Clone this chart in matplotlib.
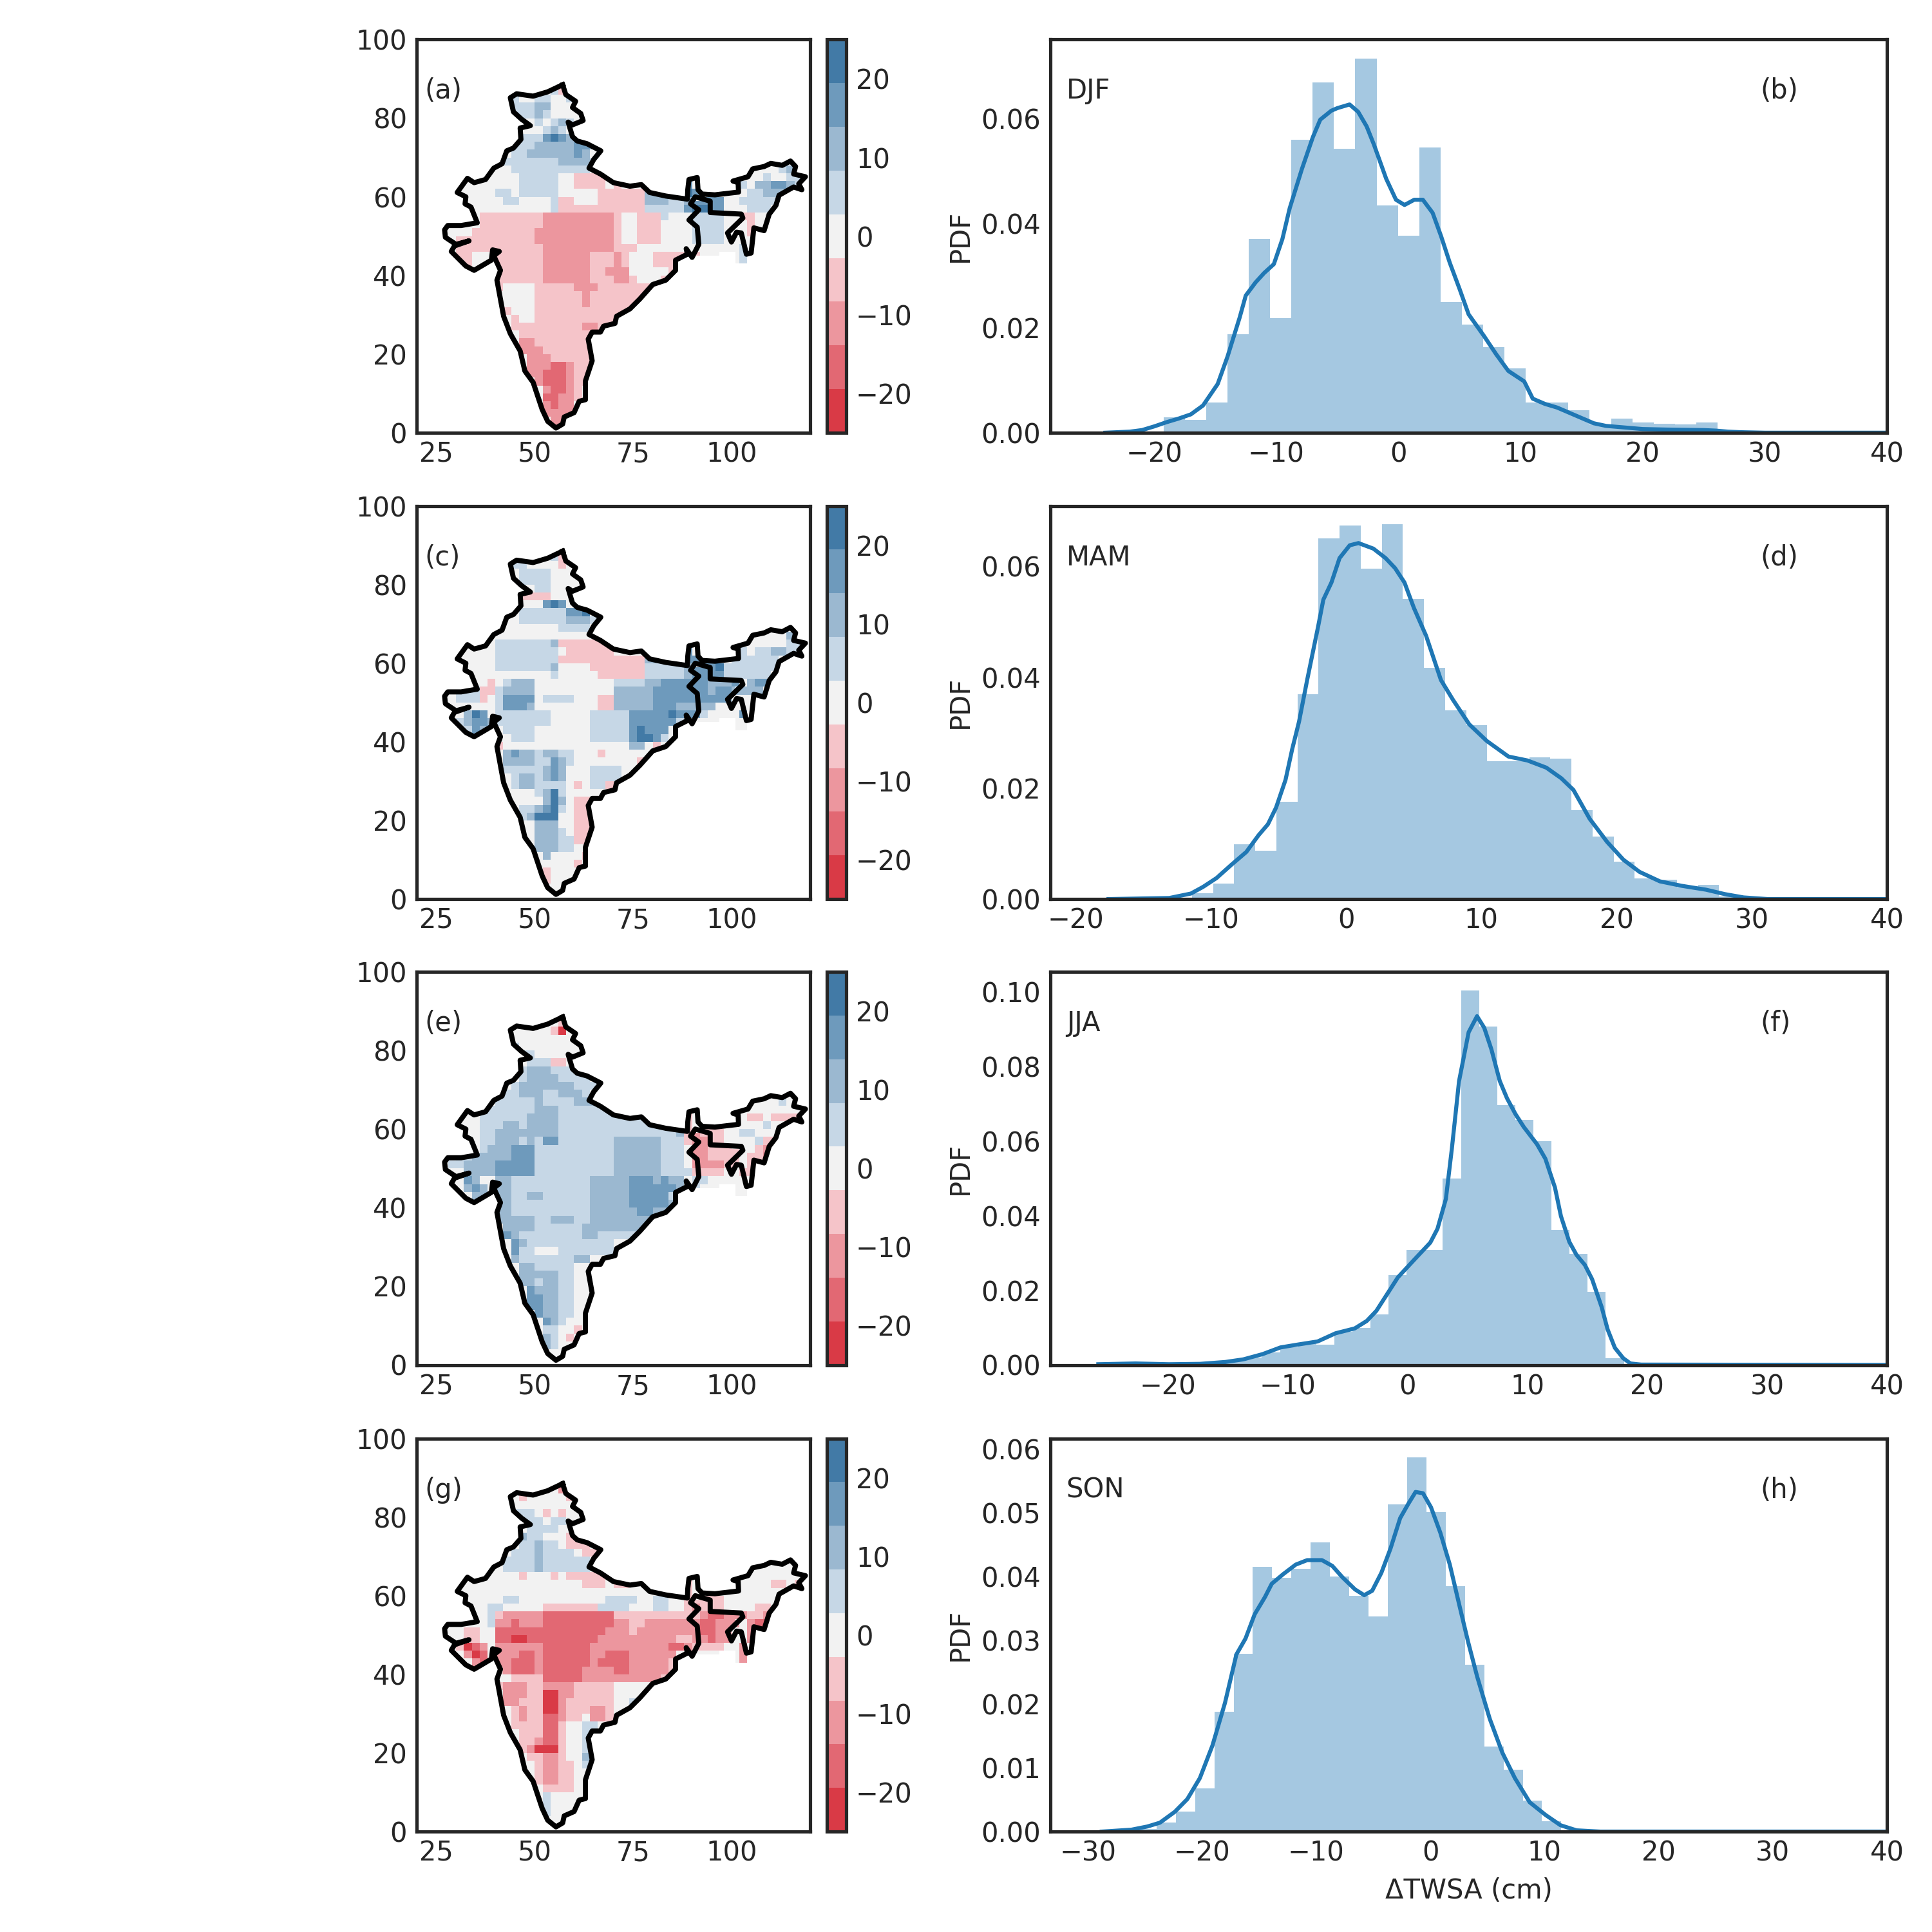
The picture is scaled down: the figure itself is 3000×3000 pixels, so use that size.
import numpy as np
import matplotlib
matplotlib.use('Agg')
import matplotlib.pyplot as plt
from matplotlib.colors import ListedColormap, BoundaryNorm
from matplotlib.cm import ScalarMappable
from matplotlib.path import Path

# outline of the country, lon-like x / lat-like y in plot units
outline_x = [57.1, 57.9, 60.4, 59.6, 61.7, 62.3, 59.6, 58.5, 59.6, 60.8, 63.3, 66.8, 65.0, 63.8, 66.7, 70.0, 74.2, 77.1, 79.2, 83.3, 88.8, 88.9, 89.2, 91.3, 91.5, 92.5, 95.8, 101.8, 101.7, 100.4, 104.2, 105.4, 108.3, 110.0, 112.9, 115.0, 116.3, 115.8, 118.8, 117.1, 117.9, 115.8, 112.1, 111.3, 109.6, 108.3, 105.7, 105.0, 103.8, 102.5, 101.3, 100.0, 99.0, 102.9, 102.5, 94.6, 94.6, 90.8, 89.6, 91.7, 89.2, 91.3, 91.7, 90.0, 88.5, 88.8, 85.8, 85.8, 83.3, 80.0, 76.7, 74.2, 70.8, 70.4, 67.5, 66.7, 64.6, 63.6, 64.6, 62.9, 62.9, 61.3, 60.0, 57.5, 57.1, 55.4, 53.3, 51.9, 49.6, 47.5, 46.3, 43.8, 42.1, 40.4, 41.3, 39.6, 41.0, 39.3, 39.0, 34.6, 32.5, 28.8, 29.6, 33.3, 30.0, 27.3, 27.1, 27.9, 31.3, 35.4, 33.8, 32.3, 32.5, 30.3, 32.9, 34.6, 37.5, 39.6, 41.7, 42.9, 44.6, 46.5, 46.3, 48.9, 46.7, 44.6, 43.8, 45.4, 49.6, 53.3, 57.1]
outline_y = [88.5, 86.0, 84.3, 82.7, 81.2, 79.4, 78.3, 79.0, 75.3, 74.2, 73.5, 71.7, 69.5, 67.3, 65.8, 63.6, 62.7, 63.1, 61.1, 60.2, 59.4, 61.8, 64.4, 64.9, 61.8, 60.7, 60.5, 61.2, 63.6, 64.0, 65.1, 67.1, 67.7, 68.5, 68.0, 69.1, 67.7, 65.8, 65.1, 63.3, 61.8, 62.5, 60.4, 57.8, 55.6, 51.4, 52.1, 45.7, 45.4, 50.8, 51.0, 48.5, 50.8, 54.6, 55.6, 56.0, 58.9, 60.0, 58.2, 56.7, 54.1, 52.3, 47.9, 44.6, 46.8, 45.4, 43.9, 41.3, 38.8, 37.7, 34.0, 31.5, 29.6, 27.8, 27.1, 25.6, 25.6, 23.8, 18.3, 13.2, 8.4, 8.0, 5.1, 4.0, 2.2, 1.2, 2.9, 5.9, 12.8, 15.7, 20.8, 25.2, 29.6, 38.8, 41.3, 45.0, 46.1, 46.5, 43.9, 41.3, 42.4, 46.1, 47.5, 48.8, 47.9, 49.7, 51.6, 52.7, 52.7, 53.4, 57.4, 58.2, 60.0, 61.1, 64.7, 63.6, 64.4, 67.3, 68.4, 71.7, 72.4, 74.6, 77.5, 78.1, 79.7, 81.6, 85.2, 86.2, 85.6, 86.7, 88.5]
# data also exists in the delta that the outline goes around
delta_x = [90.5, 94.6, 94.6, 102.9, 99.0, 100.0, 102.5, 103.8, 104.2, 100.8, 100.8, 95.8, 90.0, 91.7, 91.3, 89.2, 91.7, 89.6]
delta_y = [59.5, 58.9, 56.0, 55.2, 50.8, 48.5, 50.8, 45.4, 42.8, 42.8, 45.7, 45.4, 44.6, 47.9, 52.3, 54.1, 56.7, 58.2]

# map cells: top row is y=88, first column x=26, each char 2 units wide
# A B C D = red classes, o = neutral, 1 2 3 4 = blue classes
class_values = {'A': -22.0, 'B': -16.7, 'C': -11.0, 'D': -5.5, 'o': 0.0, '.': 0.0, '1': 5.5, '2': 11.0, '3': 16.7, '4': 22.0}

djf_rows = [
    "...............o",
    "............oo1D",
    ".........1oo11oo1",
    ".........11122oooo",
    ".........11121oooo",
    "..........oo1o121oo",
    "..........ooo121o",
    "..........11134321",
    ".........11122222332",
    ".........11222222 32",
    "........1111111 2222 1",
    "........o1111111111 .......................o12234",
    ".....ooooo 11111 oo DDDD D ................. oo 1 oo 11",
    "..oooooooo 11111 oo DDDD o D ........ 3 ..... 11 o 22 33 2 1",
    "..ooooo 11 o 11111 ooooo DDDDDD 22 222 4 3 ..... o 11 222 1",
    "...ooooo 11 oooo 1 DD ooo DDDDDD 222 11 2 3333 oo 11111",
    "....oooooooooo 1 DDDDDDDDDDD 11111 3 44 33 ooo 111",
    "....o DDDDDDDD CCCCCCCCC D oo DDD 1 ooo 1111 oo DD oo",
    ".oooo DDDDDDDD CCCCCCCCC D oo DDD o ooo 1111 oo o D oo",
    ".ooo DDDDDDDD CCCCCCCCCC D oo DDD oooo 1111 oo o D o",
    "..DDDDDDDDDD CCCCCCCCCC D oo DDD oooo 1111 ooo o",
    "..DDDDDDDDDDD CCCCCCCCC DDD ooooooo oooo oo 1",
    "..DDooo DDDDDD CCCCCC DDDC D ooo DDDD DD ..... 1",
    "...Doo. DDDDDD CCCCCC DDD C D ooo DDD ........ 1",
    ".......DDDDDD CCCCCC DD C CC ooooo D",
    ".......DDDDDD CCCCCC DDD CC D ooo DD",
    ".......D oooo DDDDD CCC DDDDDDDD",
    "........oooo DDDDDD C DDDDDDDD",
    "........oooo DDDDDD C DDDDDD",
    "........D ooo DDDDDDDDDDDD",
    ".........D oo DDDDDDDDDD",
    ".........DDDDDDDDD CC DDD",
    "..........DDDDDDDDD",
    "..........CC DDDDDDD",
    "..........CCC DDDDDD",
    "...........CCC DDDDD",
    "...........CC C BB C DD",
    "...........CC BBB C DD",
    "............C BBB C D D",
    ".............C BB C D",
    ".............BB CC D",
    ".............C B CC",
    ".............CCCC",
    "..............CC",
    "..............C",
]

mam_rows = [
    "...............o",
    "............oo1D",
    ".........11ooooDo",
    ".........o1111oooo",
    ".........o1111oooo",
    ".........Doo11oooo",
    "..........DDDDooo",
    "..........ooo343o",
    ".........o111111334",
    ".........o111111 222 1",
    "........ooooooo 1 111",
    ".......ooooooooooooo ...................... oo 23",
    ".....oo 1111111 2 DDDDDD .................. ooooo 111",
    "..ooooo 11111111 o DDDDDD oo ....... 3 ..... 11 o 11 22 11",
    "..ooooo 11111111 DDDDDDDDDDD 222 11 333 ... 111111",
    "...oooo 11111 11 2 oooo DDDDDDD 11111 2 33 3 4 1 111111",
    "....oo oooooooo 1 ooooo DDDDDD 11111 2 3333 111111",
    "....oo D o 1 222 oooooooooo 1111 2 2 333333 222 3 . 2 33",
    ".o111 DD 1 2222 oooooooooo 22222 3333333 2 33 2 2 2 2",
    ".o111 D o 1 3333 o 1111 ooo DD 22222 3333333 333",
    ".....oo 1 333 2 oooooooo DD 22222 333 22222 oo",
    "...243 . 1 111111 ooooo 1111 1 3333 3 4 3 3 3 1 .... 3",
    "..1233 2 1111111 ooooo 11111 33333 3 1 ooo ..... 2",
    "...132 . o 1111 ooooooo 11111 3 4 3 3 3",
    ".......oo111 ooooooo 11111 3443 1",
    ".......Do oooooooooo ooooo 22 oDo",
    ".......o 2 3 22 1 22 11 ooo D oooooo",
    "........2222 1 1 3 2 1 ooooooo o DD",
    "........11111 2 3 2 ooo 111 1 o",
    ".........1 22 1 2 3 2 ooo 1111",
    ".........1221111 o D o 11 D",
    ".........ooo 1 2 4 1 oooo",
    "..........ooo 2 4 2 o DD",
    "..........11 2 3 4 1 o DD",
    "..........1 2 444 oo DD",
    "...........o222ooDD",
    "...........o2221oDD",
    "...........o22211DD",
    "............22211o",
    ".............2ooooD",
    ".............ooooD",
    ".............Dooo",
    ".............Dooo",
    "..............oo",
    "..............o",
]

jja_rows = [
    "...............o",
    "............oooD",
    ".........oooooDAo",
    ".........oooooooo",
    ".........1ooooooo",
    "..........11ooooo",
    "..........o111DDo",
    "..........1222111o",
    "..........122221111",
    ".........1 2222222 111",
    "........11222112221",
    ".......11111 2 1111 22 2 ..................... oo1",
    ".....o 111111 222 1111111 ................ ooooooooo",
    "..ooo 111111 2222 11111111111 ..... D ..... oo DD o DDDD",
    "..ooo 111 22 1 2222 1111111111111 ... D ..... . ooo 1 o",
    "...oo 11 22222222 11111111111111 1 2 D C DDD oo 11 ooo",
    "....o 11 222 1 2 1 33 1111111 222222 111 D CC DD oo oo 1 DD",
    "....o 1 222 333 1111111111 222222 111 o C CD DD D oo D CC",
    ".o11 22222 333 1111111111 222222 111 o CC DDDD o DD C",
    ".11 2222 33333 1111111111 222222 111 o CCCC DD . DD",
    "...2222 33333 1111111111 222222 1111 DDDD oo DD",
    "...32o. 22 1111111111 22222 333 2 3 22 . 1 1 ooo . oo",
    "...232. 22 1111111111 22222 3333 33 2 . 1 oo ... oo",
    "....22. 22 11 22 111111 22222 33333 1 ........ o",
    ".......22 1111111111 22222 33333 2",
    ".......22 1111111111 22222 2 33 222",
    ".......22222 11 222 11 222222222",
    "........2222 111111 22222222",
    "........3 2 11111111 22 11111",
    ".........3 2 11111111111",
    ".........3 11 ooo 1111111",
    ".........2 1 1 11111 2 2",
    "..........2211111 o",
    "..........222 22 11 oo",
    "..........22 1 2 2 11 oo",
    "...........3 2 2 2 1 1 oo",
    "...........332211oo",
    "...........332211oo",
    "............32211o",
    ".............321oo",
    ".............11ooD",
    ".............21oD",
    ".............21oo",
    "..............oo",
    "..............o",
]

son_rows = [
    "...............o",
    "............oooC",
    ".........oDoooooDo",
    ".........ooooooooo",
    ".........111oDoDo",
    ".........1111o11oo",
    "..........o1111oo",
    "..........211oooDo",
    "..........1121 1oDDD",
    ".........1112 1111oDD",
    "........11112111111",
    ".......o1111 2 111111 ",
    ".....ooooo D ooo D o DDDDD ...................... ooo D",
    "..oooooooooooooooo DDD o DD ....... D ..... ooooo DD o D",
    "..ooooooooooooooooooooooo ...... D ..... ooooooooo",
    "...ooooo 11 ooooooooooo 1111 oo 11 oo D DDDD oooooo",
    "....oo 11 ooooo DD DDDDD 1111 ooo 11 oo D C DDD oooo DD",
    "....oo 1 D CCCCC BBBBBBBBB DDDDD DDDDD D C BB CCC DD C B",
    "....oo1 CC B CCC BBBBBBBBB CC DD CCCCC C C BB CCC . C BB",
    ".o o DD oo BBBBBB BBBBBBBB CCC D CCCCCCC C BB CC .. C B",
    "...DDoo BB AA BB BBBBBBB CCCC C CCCCC DD CCBCC .. C D",
    "..D A B C . CCCCCC BBBBBB CCCCC CCCCC BB C DDDD oo C",
    "...CAB. CCC BB C BBBBBB CC BBB CCCCCC oooooooo C",
    "....CB. CC BBB C BBBBBB C B B BB CCCC C D ........ C",
    ".......D C BBB C BBBBB CC C CBB CCCC C D",
    ".......oo DDD D B BB BB CC CC CC CC CC D",
    ".......D C CC D D C CC C DDD DD o ooo o",
    "........CCC DD AA CC DDDDD oooo",
    "........CC DDD A A C D DDDD D oo 1",
    ".........DC DD AA C DDD CC D o",
    ".........DC DD BB C DD o CC D",
    ".........DDD D BB D oo 11 o",
    "..........DD D BB D oo 11",
    "..........DD C BB D oo 1",
    "..........DC AAA D oo 11",
    "...........DDCCDoo2",
    "...........oDCCDDo1",
    "...........oDCCDDoo",
    "............DCCDDo",
    ".............DDDDo",
    ".............1oooo",
    ".............1ooo",
    ".............1ooo",
    "..............oo",
    "..............o",
]

map_panels = [djf_rows, mam_rows, jja_rows, son_rows]
map_labels = ['(a)', '(c)', '(e)', '(g)']

level_edges = np.linspace(-25, 25, 10)
level_colors = ['#d93a46', '#e26873', '#ec969e', '#f5c4c9', '#f2f2f2', '#c6d7e6', '#9bb8d0', '#6e9abc', '#427aa6']
cbar_ticks = [-20, -10, 0, 10, 20]

# histogram + kde
seasons = ['DJF', 'MAM', 'JJA', 'SON']
hist_labels = ['(b)', '(d)', '(f)', '(h)']

djf_bin_start = -19.24
djf_bin_width = 1.745
djf_heights = [.003, .0024, .0058, .0188, .037, .0219, .056, .0669, .0542, .0715, .0434, .0376, .0545, .025, .0206, .0164, .0123, .0058, .0058, .0043, .0016, .0027, .002, .0017, .0016, .0019]
djf_kde_x = [-24, -22, -21, -20, -19, -18, -17, -16, -14.8, -14, -13, -12.5, -11.7, -11, -10.2, -9.5, -8.9, -7.9, -7, -6.4, -5.5, -5, -4, -3.3, -2.6, -2, -1, -0.2, .5, 1.3, 2, 2.8, 3.5, 4.2, 5, 5.75, 7, 8, 9, 10.3, 11, 12, 13, 14, 15, 16, 17, 18, 19, 20, 22, 25, 26, 27, 28, 30, 40]
djf_kde_y = [0, .0002, .0005, .0012, .002, .0027, .0035, .0052, .0093, .0145, .022, .0262, .0287, .0305, .0322, .037, .0429, .0504, .0565, .0598, .0615, .062, .0627, .0613, .0585, .055, .0485, .0445, .0435, .0445, .0445, .042, .0375, .0325, .0275, .0226, .0185, .015, .0118, .0098, .0065, .0055, .0048, .0038, .0028, .0018, .0013, .0011, .0009, .0007, .0006, .0005, .0004, .0002, .0001, 0, 0]

mam_bin_start = -11.42
mam_bin_width = 1.56
mam_heights = [.001, .0028, .0099, .0087, .0176, .037, .0651, .0674, .0596, .0676, .0541, .0417, .034, .0314, .0249, .0249, .0256, .0253, .016, .0113, .0068, .0037, .0035, .0021, .0026, .0005]
mam_kde_x = [-17.6, -13.1, -11.5, -10.6, -9.6, -8.5, -7.4, -6.5, -5.8, -5.2, -4.5, -4, -3.5, -2.9, -2.1, -1.7, -1.1, -.5, .25, .9, 2, 2.9, 3.6, 4.3, 5, 5.9, 7, 7.9, 9.1, 10.4, 12, 13.4, 14.8, 15.9, 16.8, 18, 19.3, 20.5, 21.7, 23.2, 24.8, 26.6, 28, 29.4, 31.2, 40]
mam_kde_y = [0, .0002, .001, .0022, .0038, .0062, .0085, .0115, .0135, .0165, .0215, .0271, .032, .0395, .049, .054, .0571, .0615, .0638, .0642, .0632, .0615, .0597, .0571, .0525, .0475, .0395, .0359, .0315, .0285, .0257, .025, .0237, .0218, .0197, .0145, .0103, .0071, .0049, .0032, .0024, .0017, .0009, .0003, 0, 0]

jja_bin_start = -16.68
jja_bin_width = 1.51
jja_heights = [.0006, .001, .0019, .0033, .0047, .006, .0055, .0089, .01, .0136, .024, .0308, .0308, .05, .1004, .0907, .0696, .0657, .06, .0362, .0298, .0196, .0018]
jja_kde_x = [-25.8, -22.7, -19.9, -17.3, -15.2, -13.7, -12.1, -10.6, -9.1, -7.5, -6, -4.4, -3.4, -2.6, -1.6, -.8, .5, 1.9, 2.5, 3.2, 3.7, 4.3, 5.1, 5.8, 6.4, 7, 7.7, 8.3, 9, 9.7, 10.8, 11.5, 12.3, 12.8, 13.5, 14.1, 14.8, 15.4, 16.2, 16.7, 17.3, 18, 18.6, 19.5, 40]
jja_kde_y = [.0002, .0004, .0002, .0003, .0008, .0015, .0029, .0047, .0055, .0063, .0085, .0098, .0118, .0145, .0195, .0235, .028, .0328, .0365, .0445, .058, .0761, .0892, .0935, .0904, .0846, .0761, .0715, .0673, .0638, .0592, .0553, .0476, .0399, .033, .0295, .0268, .023, .0155, .0095, .0046, .0018, .0004, .0001, 0]

son_bin_start = -25.69
son_bin_width = 1.689
son_heights = [.0004, .0014, .0031, .0068, .0188, .0279, .0415, .0398, .0412, .0454, .04, .037, .0338, .0514, .0587, .0501, .0385, .0262, .0134, .0097, .0049, .0016]
son_kde_x = [-28.8, -26.2, -24.8, -23.7, -22.4, -21.3, -20.2, -19.1, -18, -17, -16.2, -15.4, -14.5, -13.9, -12.9, -11.8, -10.8, -9.5, -8.6, -7.7, -6.6, -5.8, -5.1, -4.3, -3.5, -2.65, -1.95, -1.3, -.65, .05, .87, 1.7, 2.5, 3.3, 4.1, 5.2, 6.3, 7.4, 8.7, 10.1, 11.4, 12.8, 14.9, 40]
son_kde_y = [0, .0003, .0008, .0014, .0031, .0051, .0084, .0135, .0202, .0278, .0303, .0341, .0368, .0389, .0404, .0419, .0426, .0426, .0417, .0399, .038, .0371, .0378, .0406, .0444, .0492, .0514, .0533, .0531, .0509, .0469, .0419, .0358, .0298, .0243, .0177, .0124, .0084, .0046, .0026, .001, .0002, 0, 0]

bin_starts = [djf_bin_start, mam_bin_start, jja_bin_start, son_bin_start]
bin_widths = [djf_bin_width, mam_bin_width, jja_bin_width, son_bin_width]
all_heights = [djf_heights, mam_heights, jja_heights, son_heights]
all_kde_x = [djf_kde_x, mam_kde_x, jja_kde_x, son_kde_x]
all_kde_y = [djf_kde_y, mam_kde_y, jja_kde_y, son_kde_y]

hist_xlims = [(-28.5, 40), (-21.9, 40), (-29.8, 40), (-33.3, 40)]
hist_ylims = [.0751, .0709, .1054, .0617]
hist_xticks = [np.arange(-20, 41, 10)] * 3 + [np.arange(-30, 41, 10)]
hist_yticks = [
    [0, .02, .04, .06],
    [0, .02, .04, .06],
    [0, .02, .04, .06, .08, .10],
    [0, .01, .02, .03, .04, .05, .06],
]

DARK = '#262626'
plt.rcParams['font.family'] = 'DejaVu Sans'
plt.rcParams['font.size'] = 10
plt.rcParams['text.color'] = DARK
plt.rcParams['axes.labelcolor'] = DARK
plt.rcParams['xtick.color'] = DARK
plt.rcParams['ytick.color'] = DARK
plt.rcParams['axes.edgecolor'] = DARK
plt.rcParams['axes.linewidth'] = 1.25
plt.rcParams['xtick.major.size'] = 0
plt.rcParams['ytick.major.size'] = 0
plt.rcParams['xtick.major.pad'] = 3.0
plt.rcParams['ytick.major.pad'] = 3.6


def rows_to_grid(rows):
    # 2-unit chars up to a 1-unit grid, rows flipped so index 0 is y=0
    grid = np.zeros((45, 47))
    for r, row in enumerate(rows):
        chars = row.replace(' ', '')
        for c, ch in enumerate(chars[:47]):
            grid[44 - r, c] = class_values[ch]
    return np.repeat(np.repeat(grid, 2, axis=0), 2, axis=1)


def land_mask():
    xc = np.arange(26.5, 120, 1.0)
    yc = np.arange(0.5, 90, 1.0)
    xx, yy = np.meshgrid(xc, yc)
    pts = np.column_stack([xx.ravel(), yy.ravel()])
    inside = Path(np.column_stack([outline_x, outline_y])).contains_points(pts)
    inside |= Path(np.column_stack([delta_x, delta_y])).contains_points(pts)
    return inside.reshape(xx.shape)


fig = plt.figure(figsize=(10, 10), dpi=300)
W = H = 3000.0
row_tops = [61.4, 785.6, 1509.0, 2233.6]
row_h = 610.5


def place(x0, x1, top):
    return [x0 / W, 1 - (top + row_h) / H, (x1 - x0) / W, row_h / H]


cmap = ListedColormap(level_colors)
norm = BoundaryNorm(level_edges, cmap.N)
mask = land_mask()
x_edges = np.arange(26, 121, 1)
y_edges = np.arange(0, 91, 1)

for k in range(4):
    ax = fig.add_axes(place(647, 1258, row_tops[k]))
    field = np.ma.masked_where(~mask, rows_to_grid(map_panels[k]))
    ax.pcolormesh(x_edges, y_edges, field, cmap=cmap, norm=norm, shading='flat', rasterized=True)
    ax.plot(outline_x, outline_y, color='black', lw=1.9, solid_joinstyle='round')
    ax.set_xlim(20, 120)
    ax.set_ylim(0, 100)
    ax.set_xticks([25, 50, 75, 100])
    ax.set_yticks([0, 20, 40, 60, 80, 100])
    ax.text(0.02, 0.869, map_labels[k], transform=ax.transAxes, va='center', ha='left')

    cax = fig.add_axes(place(1284, 1314, row_tops[k]))
    cb = fig.colorbar(ScalarMappable(norm=norm, cmap=cmap), cax=cax, spacing='proportional', ticks=cbar_ticks)
    cb.outline.set_linewidth(1.25)
    cb.outline.set_edgecolor(DARK)
    cb.ax.tick_params(length=0, pad=3.6)
    cb.ax.minorticks_off()

    hx = fig.add_axes(place(1631, 2930, row_tops[k]))
    heights = all_heights[k]
    lefts = [bin_starts[k] + bin_widths[k] * n for n in range(len(heights))]
    hx.bar(lefts, heights, width=bin_widths[k], align='edge', color='#1f77b4', alpha=0.4, linewidth=0)
    hx.plot(all_kde_x[k], all_kde_y[k], color='#1f77b4', lw=1.5)
    hx.set_xlim(*hist_xlims[k])
    hx.set_ylim(0, hist_ylims[k])
    hx.set_xticks(hist_xticks[k])
    hx.set_yticks(hist_yticks[k])
    hx.set_yticklabels(['%.2f' % v for v in hist_yticks[k]])
    hx.set_ylabel('PDF', labelpad=2.7)
    hx.text(0.019, 0.869, seasons[k], transform=hx.transAxes, va='center', ha='left')
    hx.text(0.849, 0.869, hist_labels[k], transform=hx.transAxes, va='center', ha='left')
    if k == 3:
        hx.set_xlabel('\u0394TWSA (cm)')

fig.savefig('out.png', dpi=300)
